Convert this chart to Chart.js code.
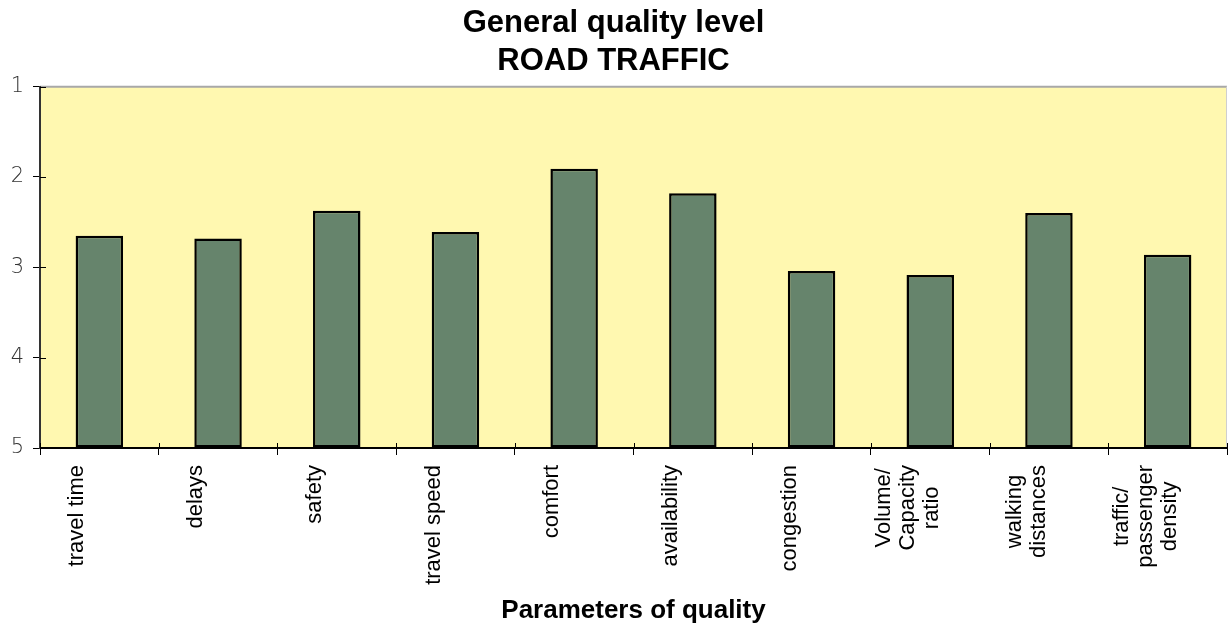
<!DOCTYPE html>
<html>
<head>
<meta charset="utf-8">
<script src="https://cdn.jsdelivr.net/npm/chart.js@4.4.0/dist/chart.umd.min.js"></script>
<style>
  html, body { margin: 0; padding: 0; background: #fff; }
  #wrap { width: 1228px; height: 626px; }
</style>
</head>
<body>
<div id="wrap"><canvas id="chart"></canvas></div>
<script>
// categories (multi-line labels)
const categories = [
  ["travel time"],
  ["delays"],
  ["safety"],
  ["travel speed"],
  ["comfort"],
  ["availability"],
  ["congestion"],
  ["Volume/", "Capacity", "ratio"],
  ["walking", "distances"],
  ["traffic/", "passenger", "density"]
]
// quality level (1 = best, 5 = worst)
const qualityLevel = [2.65, 2.68, 2.375, 2.61, 1.91, 2.18, 3.04, 3.085, 2.40, 2.86]
const yTicks = [1, 2, 3, 4, 5]

// yellow plot background + top/right border
const plotBackground = {
  id: "plotBackground",
  beforeDraw(chart) {
    const { ctx, chartArea: a } = chart
    ctx.save()
    ctx.fillStyle = "#FFF8B0"
    ctx.fillRect(a.left, a.top, a.right - a.left, a.bottom - a.top)
    ctx.strokeStyle = "#A8A8A8"
    ctx.lineWidth = 2
    ctx.beginPath()
    ctx.moveTo(a.left, a.top)
    ctx.lineTo(a.right, a.top)
    ctx.stroke()
    ctx.strokeStyle = "#CFCFCF"
    ctx.lineWidth = 1
    ctx.beginPath()
    ctx.moveTo(a.right - 0.5, a.top)
    ctx.lineTo(a.right - 0.5, a.bottom)
    ctx.stroke()
    ctx.restore()
  },
  // small tick stubs that cross into the plot
  afterDatasetsDraw(chart) {
    const { ctx, chartArea: a, scales } = chart
    ctx.save()
    ctx.strokeStyle = "#000"
    ctx.lineWidth = 1
    ctx.beginPath()
    yTicks.forEach(v => {
      const py = Math.round(scales.y.getPixelForValue(v)) + 0.5
      ctx.moveTo(a.left, py)
      ctx.lineTo(a.left + 6, py)
    })
    for (let i = 0; i <= categories.length; i++) {
      const px = Math.round(scales.x.getPixelForValue(i - 0.5)) + 0.5
      ctx.moveTo(px, a.bottom)
      ctx.lineTo(px, a.bottom - 5)
    }
    ctx.stroke()
    ctx.restore()
  },
}

// rotated, centred x labels
const xLabels = {
  id: "xLabels",
  afterDraw(chart) {
    const { ctx, scales } = chart
    const x = scales.x
    const lineH = 24
    ctx.save()
    ctx.fillStyle = "#000"
    ctx.font = "22px 'Liberation Sans', Arial, sans-serif"
    ctx.textBaseline = "middle"
    ctx.textAlign = "center"
    categories.forEach((lines, i) => {
      const px = x.getPixelForValue(i) - 22
      const widths = lines.map(l => ctx.measureText(l).width)
      const maxW = Math.max(...widths)
      const top = x.top + 17
      ctx.save()
      ctx.translate(px, top + maxW / 2)
      ctx.rotate(-Math.PI / 2)
      lines.forEach((l, j) => {
        const off = (j - (lines.length - 1) / 2) * lineH
        ctx.fillText(l, 0, off)
      })
      ctx.restore()
    })
    ctx.restore()
  },
}

const ctx = document.getElementById("chart").getContext("2d")

new Chart(ctx, {
  type: "bar",
  data: {
    labels: categories.map(c => c.join(" ")),
    datasets: [
      {
        data: qualityLevel,
        base: 5,
        backgroundColor: "#66846C",
        borderColor: "#000",
        borderWidth: 2.5,
        borderSkipped: false,
        barPercentage: 0.4,
        categoryPercentage: 1,
      },
    ],
  },
  options: {
    responsive: true,
    maintainAspectRatio: false,
    animation: false,
    layout: { padding: { left: 0, right: 1, top: 0, bottom: 0 } },
    plugins: {
      legend: { display: false },
      tooltip: { enabled: false },
      title: {
        display: true,
        text: ["General quality level", "ROAD TRAFFIC"],
        color: "#000",
        font: { family: "'Liberation Sans', Arial, sans-serif", size: 31, weight: "bold", lineHeight: 1.22 },
        padding: { top: 5, bottom: 6 },
      },
    },
    scales: {
      x: {
        grid: {
          offset: true,
          drawOnChartArea: false,
          drawTicks: true,
          tickLength: 7,
          tickColor: "#000",
        },
        border: { display: true, color: "#000", width: 2 },
        ticks: { display: false },
        title: {
          display: true,
          text: "Parameters of quality",
          color: "#000",
          font: { family: "'Liberation Sans', Arial, sans-serif", size: 26, weight: "bold" },
          padding: { top: 0, bottom: 0 },
        },
        afterFit(scale) {
          scale.height = 178
        },
      },
      y: {
        reverse: true,
        min: 1,
        max: 5,
        afterBuildTicks(scale) {
          scale.ticks = yTicks.map(v => ({ value: v }))
        },
        grid: {
          drawOnChartArea: false,
          drawTicks: true,
          tickLength: 7,
          tickColor: "#000",
        },
        border: { display: true, color: "#333", width: 2 },
        ticks: {
          color: "#333",
          padding: 9,
          font: { family: "'DejaVu Sans', sans-serif", size: 21, weight: "200" },
        },
        afterFit(scale) {
          scale.width = 40
        },
      },
    },
  },
  plugins: [plotBackground, xLabels],
})
</script>
</body>
</html>
